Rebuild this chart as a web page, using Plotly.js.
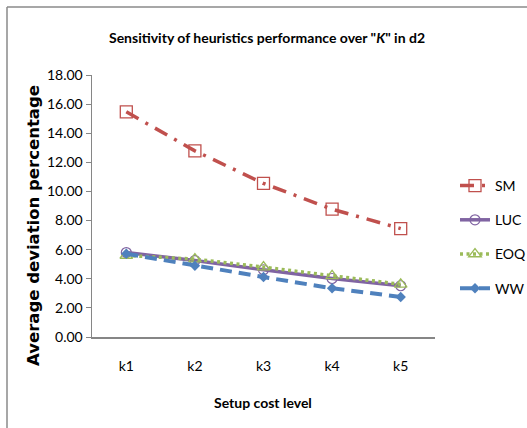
<!DOCTYPE html>
<html>
<head>
<meta charset="utf-8">
<script src="https://cdn.plot.ly/plotly-3.0.1.min.js"></script>
<style>
  html, body { margin: 0; padding: 0; background: #ffffff; }
  #chart { width: 527px; height: 428px; }
</style>
</head>
<body>
<div id="chart"></div>
<script>
// Setup cost levels on the x axis
const levels = ['k1', 'k2', 'k3', 'k4', 'k5'];

// Average deviation percentage of each heuristic
const sm  = [15.47, 12.79, 10.55, 8.78, 7.45];
const luc = [5.80, 5.25, 4.62, 4.02, 3.52];
const eoq = [5.60, 5.35, 4.80, 4.20, 3.62];
const ww  = [5.72, 4.90, 4.12, 3.35, 2.75];

const yTicks = [0, 2, 4, 6, 8, 10, 12, 14, 16, 18];
const yTickText = yTicks.map(v => v.toFixed(2));

const W = 527, H = 428;
const M = { l: 92, r: 92, t: 75, b: 91, autoexpand: false };
const plotW = W - M.l - M.r, plotH = H - M.t - M.b;
const px = x => (x - M.l) / plotW;
const py = y => (H - M.b - y) / plotH;

const face = 'Lato, "Liberation Sans", sans-serif';

const traces = [
  {
    name: 'SM', x: levels, y: sm, legendgroup: 'a',
    mode: 'lines+markers',
    line: { color: '#C0504D', width: 3.5, dash: '14px,8px,3px,8px' },
    marker: { symbol: 'square-open', size: 12, color: '#C0504D', line: { width: 1.3 } }
  },
  {
    name: 'LUC', x: levels, y: luc, legendgroup: 'b',
    mode: 'lines+markers',
    line: { color: '#8064A2', width: 3.5 },
    marker: { symbol: 'circle-open', size: 10, color: '#8064A2', line: { width: 1.2 } }
  },
  {
    name: 'EOQ', x: levels, y: eoq, legendgroup: 'c',
    mode: 'lines+markers',
    line: { color: '#9BBB59', width: 3.5, dash: '3px,3.5px' },
    marker: { symbol: 'triangle-up-open', size: 11, color: '#9BBB59', line: { width: 1.3 } }
  },
  {
    name: 'WW', x: levels, y: ww, legendgroup: 'd',
    mode: 'lines+markers',
    line: { color: '#4F81BD', width: 4, dash: '12px,7px' },
    marker: { symbol: 'diamond', size: 8, color: '#4F81BD' }
  }
];

const layout = {
  width: W, height: H,
  margin: M,
  paper_bgcolor: '#ffffff',
  plot_bgcolor: '#ffffff',
  font: { family: face, size: 13, color: '#000000' },
  title: {
    text: 'Sensitivity of heuristics performance over "<i>K</i>" in d2',
    font: { family: face, size: 14, color: '#000000', weight: 'bold' },
    x: 267 / W, xanchor: 'center',
    y: 1 - 38 / H, yanchor: 'middle', yref: 'container'
  },
  xaxis: {
    type: 'category',
    range: [-0.5, 4.5],
    showgrid: false, zeroline: false,
    showline: true, linecolor: '#868686', linewidth: 1.5,
    ticks: 'outside', ticklen: 16, tickcolor: 'rgba(0,0,0,0)',
    tickfont: { family: face, size: 14 },
    fixedrange: true
  },
  yaxis: {
    range: [0, 18],
    tickvals: yTicks, ticktext: yTickText,
    showgrid: false, zeroline: false,
    showline: true, linecolor: '#868686', linewidth: 1.5,
    ticks: 'outside', ticklen: 5, tickcolor: '#868686',
    tickfont: { family: face, size: 14 },
    fixedrange: true
  },
  showlegend: true,
  legend: {
    x: px(455), xanchor: 'left',
    y: py(170), yanchor: 'top',
    traceorder: 'grouped', tracegroupgap: 13,
    font: { family: face, size: 14 },
    bgcolor: 'rgba(0,0,0,0)'
  },
  annotations: [
    {
      text: '<b>Average deviation percentage</b>',
      textangle: -90,
      xref: 'paper', yref: 'paper',
      x: px(33), y: py(226),
      xanchor: 'center', yanchor: 'middle',
      showarrow: false,
      font: { family: '"DejaVu Sans", Verdana, sans-serif', size: 16.5, color: '#000000' }
    },
    {
      text: '<b>Setup cost level</b>',
      xref: 'paper', yref: 'paper',
      x: px(263), y: py(402),
      xanchor: 'center', yanchor: 'middle',
      showarrow: false,
      font: { family: face, size: 14, color: '#000000' }
    }
  ],
  shapes: [
    // chart frame: top and left edges
    { type: 'line', xref: 'paper', yref: 'paper', x0: px(7), x1: px(W + 5), y0: py(7), y1: py(7),
      line: { color: '#8a8a8a', width: 1.5 } },
    { type: 'line', xref: 'paper', yref: 'paper', x0: px(7), x1: px(7), y0: py(7), y1: py(H + 5),
      line: { color: '#8a8a8a', width: 1.5 } }
  ]
};

Plotly.newPlot('chart', traces, layout, { displayModeBar: false, staticPlot: true });
</script>
</body>
</html>
